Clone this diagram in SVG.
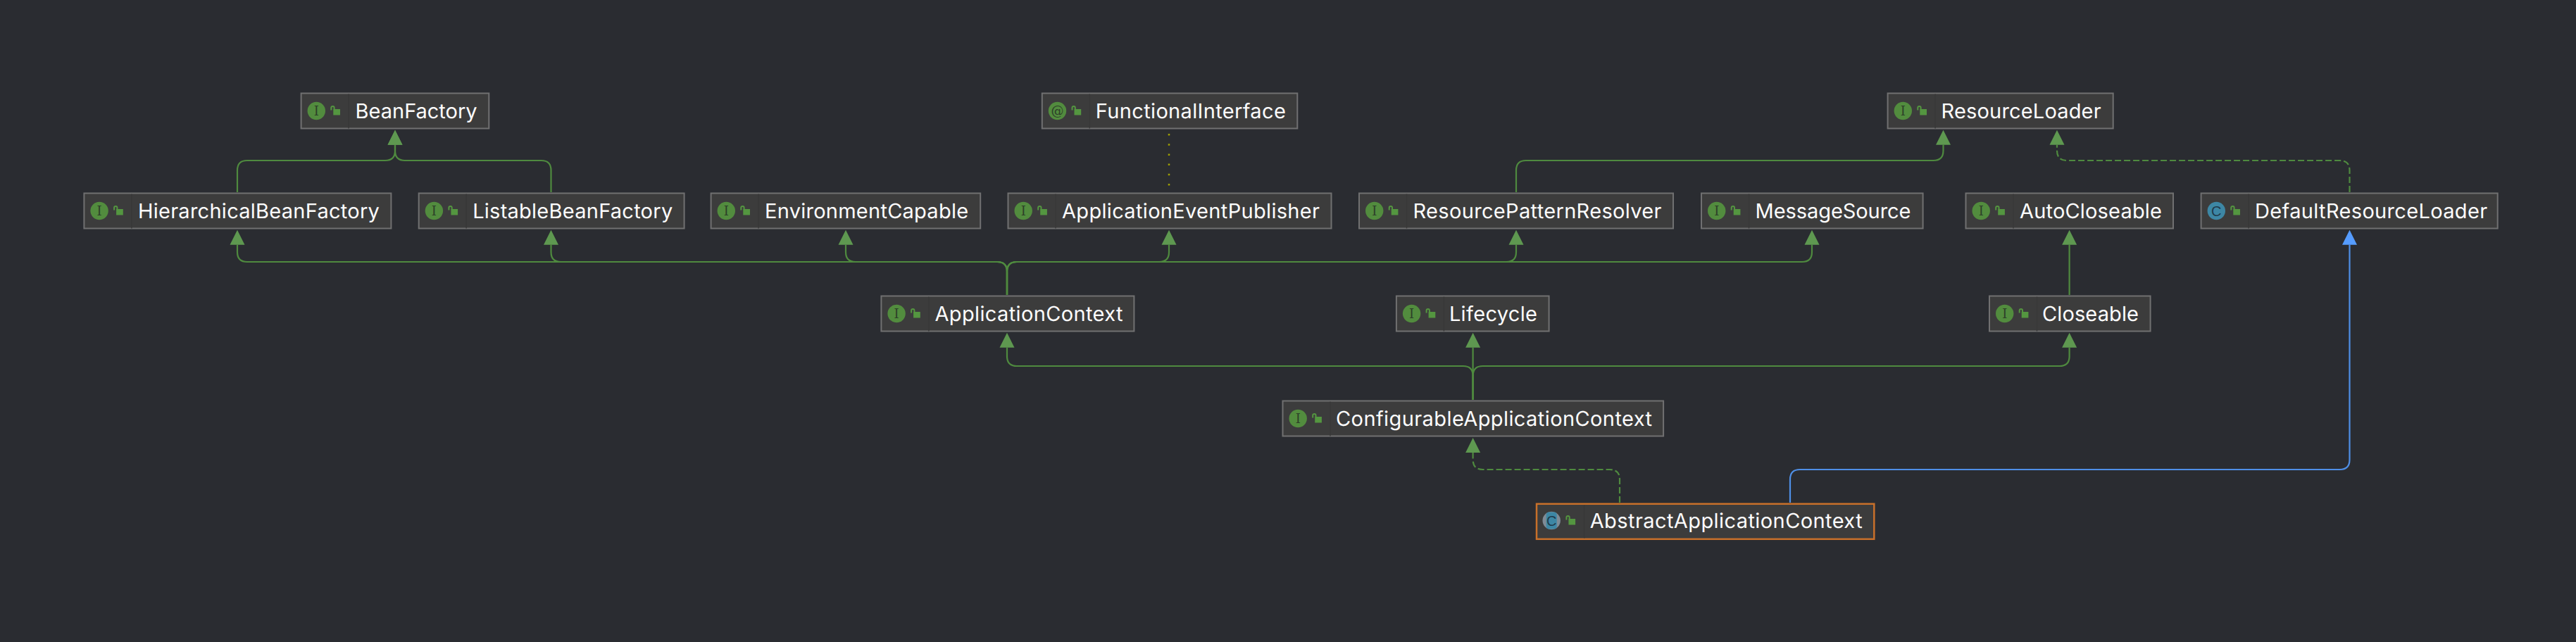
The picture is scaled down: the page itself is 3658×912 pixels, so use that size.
<svg xmlns="http://www.w3.org/2000/svg" width="3658" height="912" viewBox="0 0 3658 912">
<style>
.bg{fill:#2a2c31}
.box{fill:#3c3c3c;stroke:#707071;stroke-width:2}
.sel{stroke:#c8702a;stroke-width:2.500}
.div{stroke:#383838;stroke-width:1.500}
.t{font-family:Inter,"Liberation Sans",sans-serif;font-size:29px;fill:#fdfdfd;text-rendering:geometricPrecision}
.g{font-family:"DejaVu Serif","Liberation Serif",serif;font-size:18px;fill:#2d3f29;text-anchor:middle}
.gc{font-family:"Liberation Sans",sans-serif;font-size:20px;fill:#1f3a4a;text-anchor:middle}
.lb{fill:#549640}
.ls{fill:none;stroke:#549640;stroke-width:2}
.c{fill:none;stroke:#4f8a3f;stroke-width:2.200}
.d{stroke-dasharray:9 4}
.blue{fill:none;stroke:#4f8fe6;stroke-width:2.200}
.dot{fill:none;stroke:#a0a000;stroke-width:2.500;stroke-dasharray:2.500 11.700}
</style>
<defs>
<marker id="hg" markerUnits="userSpaceOnUse" markerWidth="22" markerHeight="22" refX="0" refY="11" orient="auto"><path d="M0 .5L21 11L0 21.5Z" fill="#5e9850"/></marker>
<marker id="hb" markerUnits="userSpaceOnUse" markerWidth="22" markerHeight="22" refX="0" refY="11" orient="auto"><path d="M0 .5L21 11L0 21.5Z" fill="#559cff"/></marker>
<g id="lock"><path class="ls" d="M43.700 25V21.500Q43.700 19.500 46 19.500Q48 19.500 48 21.500V24"/><rect class="lb" x="46.700" y="23.500" width="9.700" height="8.500"/></g>
<g id="ii"><circle cx="22.700" cy="26" r="12.700" fill="#528c3e"/><text class="g" x="22.700" y="32">I</text><use href="#lock"/></g>
<g id="ic"><circle cx="22.700" cy="26" r="12.700" fill="#3d87a5"/><text class="gc" x="22.700" y="33">C</text><use href="#lock"/></g>
</defs>
<rect class="bg" width="3658" height="912"/>
<g id="connectors">
<path class="c" marker-end="url(#hg)" d="M337 273V242Q337 228 351 228H547Q561 228 561 214V205.700"/>
<path class="c" marker-end="url(#hg)" d="M782.500 273V242Q782.500 228 768.500 228H575Q561 228 561 214V205.700"/>
<path class="dot" d="M1660 190V264"/>
<path class="c" marker-end="url(#hg)" d="M2153 273V242Q2153 228 2167 228H2745.500Q2759.500 228 2759.500 214V205.700"/>
<path class="c d" marker-end="url(#hg)" d="M3336.500 273V242Q3336.500 228 3322.500 228H2935Q2921 228 2921 214V205.700"/>
<path class="c" marker-end="url(#hg)" d="M1430 419V386Q1430 372 1416 372H351Q337 372 337 358V347.700"/>
<path class="c" marker-end="url(#hg)" d="M1430 419V386Q1430 372 1416 372H796.500Q782.500 372 782.500 358V347.700"/>
<path class="c" marker-end="url(#hg)" d="M1430 419V386Q1430 372 1416 372H1215Q1201 372 1201 358V347.700"/>
<path class="c" marker-end="url(#hg)" d="M1430 419V386Q1430 372 1444 372H1646Q1660 372 1660 358V347.700"/>
<path class="c" marker-end="url(#hg)" d="M1430 419V386Q1430 372 1444 372H2139Q2153 372 2153 358V347.700"/>
<path class="c" marker-end="url(#hg)" d="M1430 419V386Q1430 372 1444 372H2559Q2573 372 2573 358V347.700"/>
<path class="c" marker-end="url(#hg)" d="M2938.600 419V347.700"/>
<path class="c" marker-end="url(#hg)" d="M2091.600 568V534Q2091.600 520 2077.600 520H1444Q1430 520 1430 506V493.700"/>
<path class="c" marker-end="url(#hg)" d="M2091.600 568V493.700"/>
<path class="c" marker-end="url(#hg)" d="M2091.600 568V534Q2091.600 520 2105.600 520H2924.600Q2938.600 520 2938.600 506V493.700"/>
<path class="c d" marker-end="url(#hg)" d="M2300 714V681Q2300 667 2286 667H2105.600Q2091.600 667 2091.600 653V643"/>
<path class="blue" marker-end="url(#hb)" d="M2542 714V681Q2542 667 2556 667H3322.500Q3336.500 667 3336.500 653V347.700"/>
</g>
<g id="BeanFactory" transform="translate(426.600 131.500)"><rect class="box" x="1" y="1" width="266.700" height="50"/><path class="div" d="M68.500 2V51"/><use href="#ii"/><text class="t" x="78" y="36" textLength="173" lengthAdjust="spacing">BeanFactory</text></g>
<g id="FunctionalInterface" transform="translate(1478.800 131.500)"><rect class="box" x="1" y="1" width="362.500" height="50"/><path class="div" d="M68.500 2V51"/><circle cx="22.700" cy="26" r="12.700" fill="#528c3e"/><text class="g" x="22.700" y="32">@</text><use href="#lock"/><text class="t" x="77" y="36" textLength="270" lengthAdjust="spacing">FunctionalInterface</text></g>
<g id="ResourceLoader" transform="translate(2679.600 131.500)"><rect class="box" x="1" y="1" width="320.100" height="50"/><path class="div" d="M68.500 2V51"/><use href="#ii"/><text class="t" x="77" y="36" textLength="227" lengthAdjust="spacing">ResourceLoader</text></g>
<g id="HierarchicalBeanFactory" transform="translate(118.400 273.500)"><rect class="box" x="1" y="1" width="436" height="50"/><path class="div" d="M68.500 2V51"/><use href="#ii"/><text class="t" x="77.500" y="36" textLength="343" lengthAdjust="spacing">HierarchicalBeanFactory</text></g>
<g id="ListableBeanFactory" transform="translate(593.700 273.500)"><rect class="box" x="1" y="1" width="376.900" height="50"/><path class="div" d="M68.500 2V51"/><use href="#ii"/><text class="t" x="77.500" y="36" textLength="284" lengthAdjust="spacing">ListableBeanFactory</text></g>
<g id="EnvironmentCapable" transform="translate(1008.600 273.500)"><rect class="box" x="1" y="1" width="382.600" height="50"/><path class="div" d="M68.500 2V51"/><use href="#ii"/><text class="t" x="77.500" y="36" textLength="289" lengthAdjust="spacing">EnvironmentCapable</text></g>
<g id="ApplicationEventPublisher" transform="translate(1430.500 273.500)"><rect class="box" x="1" y="1" width="459" height="50"/><path class="div" d="M68.500 2V51"/><use href="#ii"/><text class="t" x="77.500" y="36" textLength="366" lengthAdjust="spacing">ApplicationEventPublisher</text></g>
<g id="ResourcePatternResolver" transform="translate(1929 273.500)"><rect class="box" x="1" y="1" width="446" height="50"/><path class="div" d="M68.500 2V51"/><use href="#ii"/><text class="t" x="77.500" y="36" textLength="353" lengthAdjust="spacing">ResourcePatternResolver</text></g>
<g id="MessageSource" transform="translate(2415 273.500)"><rect class="box" x="1" y="1" width="314.600" height="50"/><path class="div" d="M68.500 2V51"/><use href="#ii"/><text class="t" x="77.500" y="36" textLength="221" lengthAdjust="spacing">MessageSource</text></g>
<g id="AutoCloseable" transform="translate(2790.500 273.500)"><rect class="box" x="1" y="1" width="294.500" height="50"/><path class="div" d="M68.500 2V51"/><use href="#ii"/><text class="t" x="77.500" y="36" textLength="202" lengthAdjust="spacing">AutoCloseable</text></g>
<g id="DefaultResourceLoader" transform="translate(3124.600 273.500)"><rect class="box" x="1" y="1" width="421.100" height="50"/><path class="div" d="M68.500 2V51"/><use href="#ic"/><text class="t" x="77.500" y="36" textLength="330" lengthAdjust="spacing">DefaultResourceLoader</text></g>
<g id="ApplicationContext" transform="translate(1250.400 419.500)"><rect class="box" x="1" y="1" width="359" height="50"/><path class="div" d="M68.500 2V51"/><use href="#ii"/><text class="t" x="77" y="36" textLength="267" lengthAdjust="spacing">ApplicationContext</text></g>
<g id="Lifecycle" transform="translate(1981.900 419.500)"><rect class="box" x="1" y="1" width="216.700" height="50"/><path class="div" d="M68.500 2V51"/><use href="#ii"/><text class="t" x="76" y="36" textLength="125" lengthAdjust="spacing">Lifecycle</text></g>
<g id="Closeable" transform="translate(2824 419.500)"><rect class="box" x="1" y="1" width="228.600" height="50"/><path class="div" d="M68.500 2V51"/><use href="#ii"/><text class="t" x="76" y="36" textLength="137" lengthAdjust="spacing">Closeable</text></g>
<g id="ConfigurableApplicationContext" transform="translate(1820.500 568.500)"><rect class="box" x="1" y="1" width="540.600" height="50"/><path class="div" d="M68.500 2V51"/><use href="#ii"/><text class="t" x="76.500" y="36" textLength="449" lengthAdjust="spacing">ConfigurableApplicationContext</text></g>
<g id="AbstractApplicationContext" transform="translate(2180.700 714.500)"><rect class="box sel" x="1.300" y="1.300" width="479.300" height="50"/><path class="div" d="M69 3V50"/><circle cx="22.500" cy="25" r="12.700" fill="#7f8b96"/><rect x="15" y="13" width="15" height="24" rx="4" fill="#3d87a5"/><text class="gc" x="22.500" y="32">C</text><use href="#lock" y="-1"/><text class="t" x="77" y="35" textLength="387" lengthAdjust="spacing">AbstractApplicationContext</text></g>
</svg>
